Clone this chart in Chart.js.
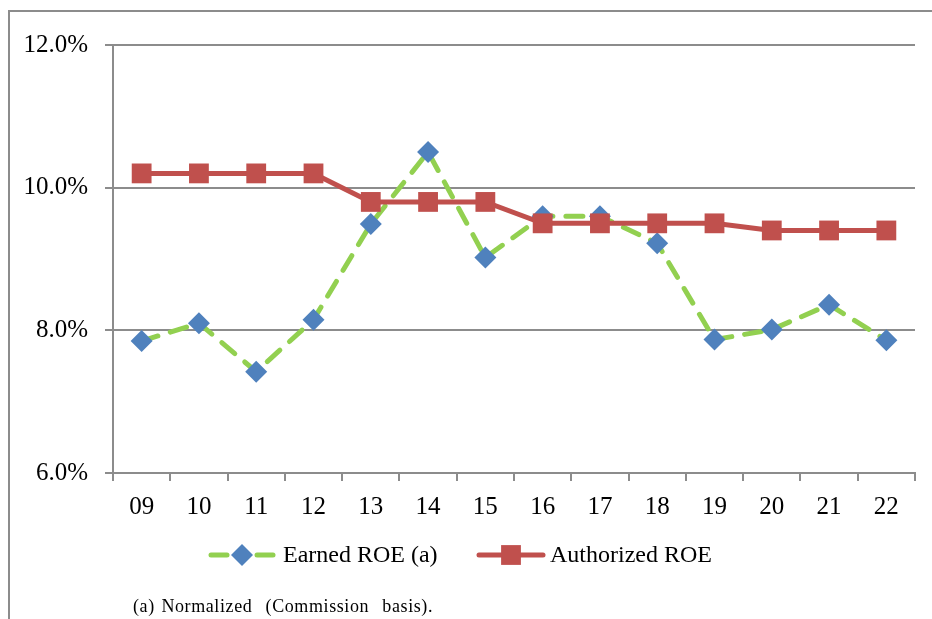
<!DOCTYPE html>
<html>
<head>
<meta charset="utf-8">
<script src="https://cdn.jsdelivr.net/npm/chart.js@4"></script>
<style>
  html, body { margin: 0; padding: 0; background: #fff; }
  #wrap { position: relative; width: 932px; height: 619px; overflow: hidden; }
  #frame { position: absolute; left: 8px; top: 10px; width: 940px; height: 640px;
           border-top: 2px solid #8c8c8c; border-left: 2px solid #8c8c8c; }
  #note { position: absolute; left: 133px; top: 596px; font-family: "Liberation Serif", serif;
          font-size: 18px; white-space: pre; letter-spacing: 0.6px; word-spacing: 1.5px; color: #000; }
</style>
</head>
<body>
<div id="wrap">
  <div id="frame"></div>
  <canvas id="c" width="932" height="619"></canvas>
  <div id="note">(a) Normalized  (Commission  basis).</div>
</div>
<script>
const years = ['09', '10', '11', '12', '13', '14', '15', '16', '17', '18', '19', '20', '21', '22'];
const earnedROE = [7.85, 8.10, 7.42, 8.15, 9.49, 10.50, 9.02, 9.60, 9.60, 9.22, 7.87, 8.01, 8.36, 7.86];
const authorizedROE = [10.2, 10.2, 10.2, 10.2, 9.8, 9.8, 9.8, 9.5, 9.5, 9.5, 9.5, 9.4, 9.4, 9.4];
const yTicks = [6, 8, 10, 12];

const serif = '"Liberation Serif", "Times New Roman", serif';
const gridGray = '#8c8c8c';

// legend: line + marker, drawn from the dataset styles
const lineLegend = {
  id: 'lineLegend',
  afterDraw(chart) {
    const ctx = chart.ctx;
    const items = [
      { ds: chart.data.datasets[0], x0: 211, x1: 273, tx: 283 },
      { ds: chart.data.datasets[1], x0: 479, x1: 543, tx: 550 }
    ];
    const y = 555;
    items.forEach(it => {
      const ds = it.ds;
      ctx.save();
      ctx.strokeStyle = ds.borderColor;
      ctx.lineWidth = ds.borderWidth;
      ctx.lineCap = 'round';
      if (ds.borderDash) {
        ctx.beginPath(); ctx.moveTo(it.x0, y); ctx.lineTo(it.x0 + 16, y); ctx.stroke();
        ctx.beginPath(); ctx.moveTo(it.x1 - 16, y); ctx.lineTo(it.x1, y); ctx.stroke();
      } else {
        ctx.beginPath(); ctx.moveTo(it.x0, y); ctx.lineTo(it.x1, y); ctx.stroke();
      }
      ctx.fillStyle = ds.pointBackgroundColor;
      ctx.strokeStyle = ds.pointBackgroundColor;
      Chart.helpers.drawPoint(ctx, { pointStyle: ds.pointStyle, radius: ds.pointRadius, borderWidth: 0, rotation: 0 },
        (it.x0 + it.x1) / 2, y);
      ctx.fillStyle = '#000';
      ctx.font = '24px ' + serif;
      ctx.textBaseline = 'middle';
      ctx.fillText(ds.label, it.tx, y + 1);
      ctx.restore();
    });
  }
};

new Chart(document.getElementById('c'), {
  type: 'line',
  data: {
    labels: years,
    datasets: [{
      label: 'Earned ROE (a)',
      data: earnedROE,
      borderColor: '#92D050',
      borderWidth: 5,
      borderDash: [17, 13],
      borderCapStyle: 'round',
      pointStyle: 'rectRot',
      pointRadius: 11,
      pointBackgroundColor: '#4F81BD',
      pointBorderColor: '#4F81BD',
      pointBorderWidth: 0,
      tension: 0,
      order: 2
    }, {
      label: 'Authorized ROE',
      data: authorizedROE,
      borderColor: '#C0504D',
      borderWidth: 5,
      pointStyle: 'rect',
      pointRadius: 14,
      pointBackgroundColor: '#C0504D',
      pointBorderColor: '#C0504D',
      pointBorderWidth: 0,
      tension: 0,
      order: 1
    }]
  },
  options: {
    responsive: false,
    animation: false,
    layout: { padding: { top: 45, right: 17, bottom: 0, left: 0 } },
    plugins: { legend: { display: false }, tooltip: { enabled: false } },
    scales: {
      x: {
        offset: true,
        grid: { offset: true, drawOnChartArea: false, drawTicks: true, tickLength: 8, color: gridGray, lineWidth: 2 },
        border: { color: gridGray, width: 2 },
        ticks: { color: '#000', font: { family: serif, size: 25 }, padding: 11, maxRotation: 0 },
        afterFit(scale) { scale.height = 146; }
      },
      y: {
        min: 6,
        max: 12,
        afterBuildTicks(scale) { scale.ticks = yTicks.map(v => ({ value: v })); },
        grid: { color: gridGray, lineWidth: 2, tickLength: 8 },
        border: { color: gridGray, width: 2 },
        ticks: {
          color: '#000', font: { family: serif, size: 25 }, padding: 17,
          callback: v => v.toFixed(1) + '%'
        },
        afterFit(scale) { scale.width = 113; }
      }
    }
  },
  plugins: [lineLegend]
});
</script>
</body>
</html>
